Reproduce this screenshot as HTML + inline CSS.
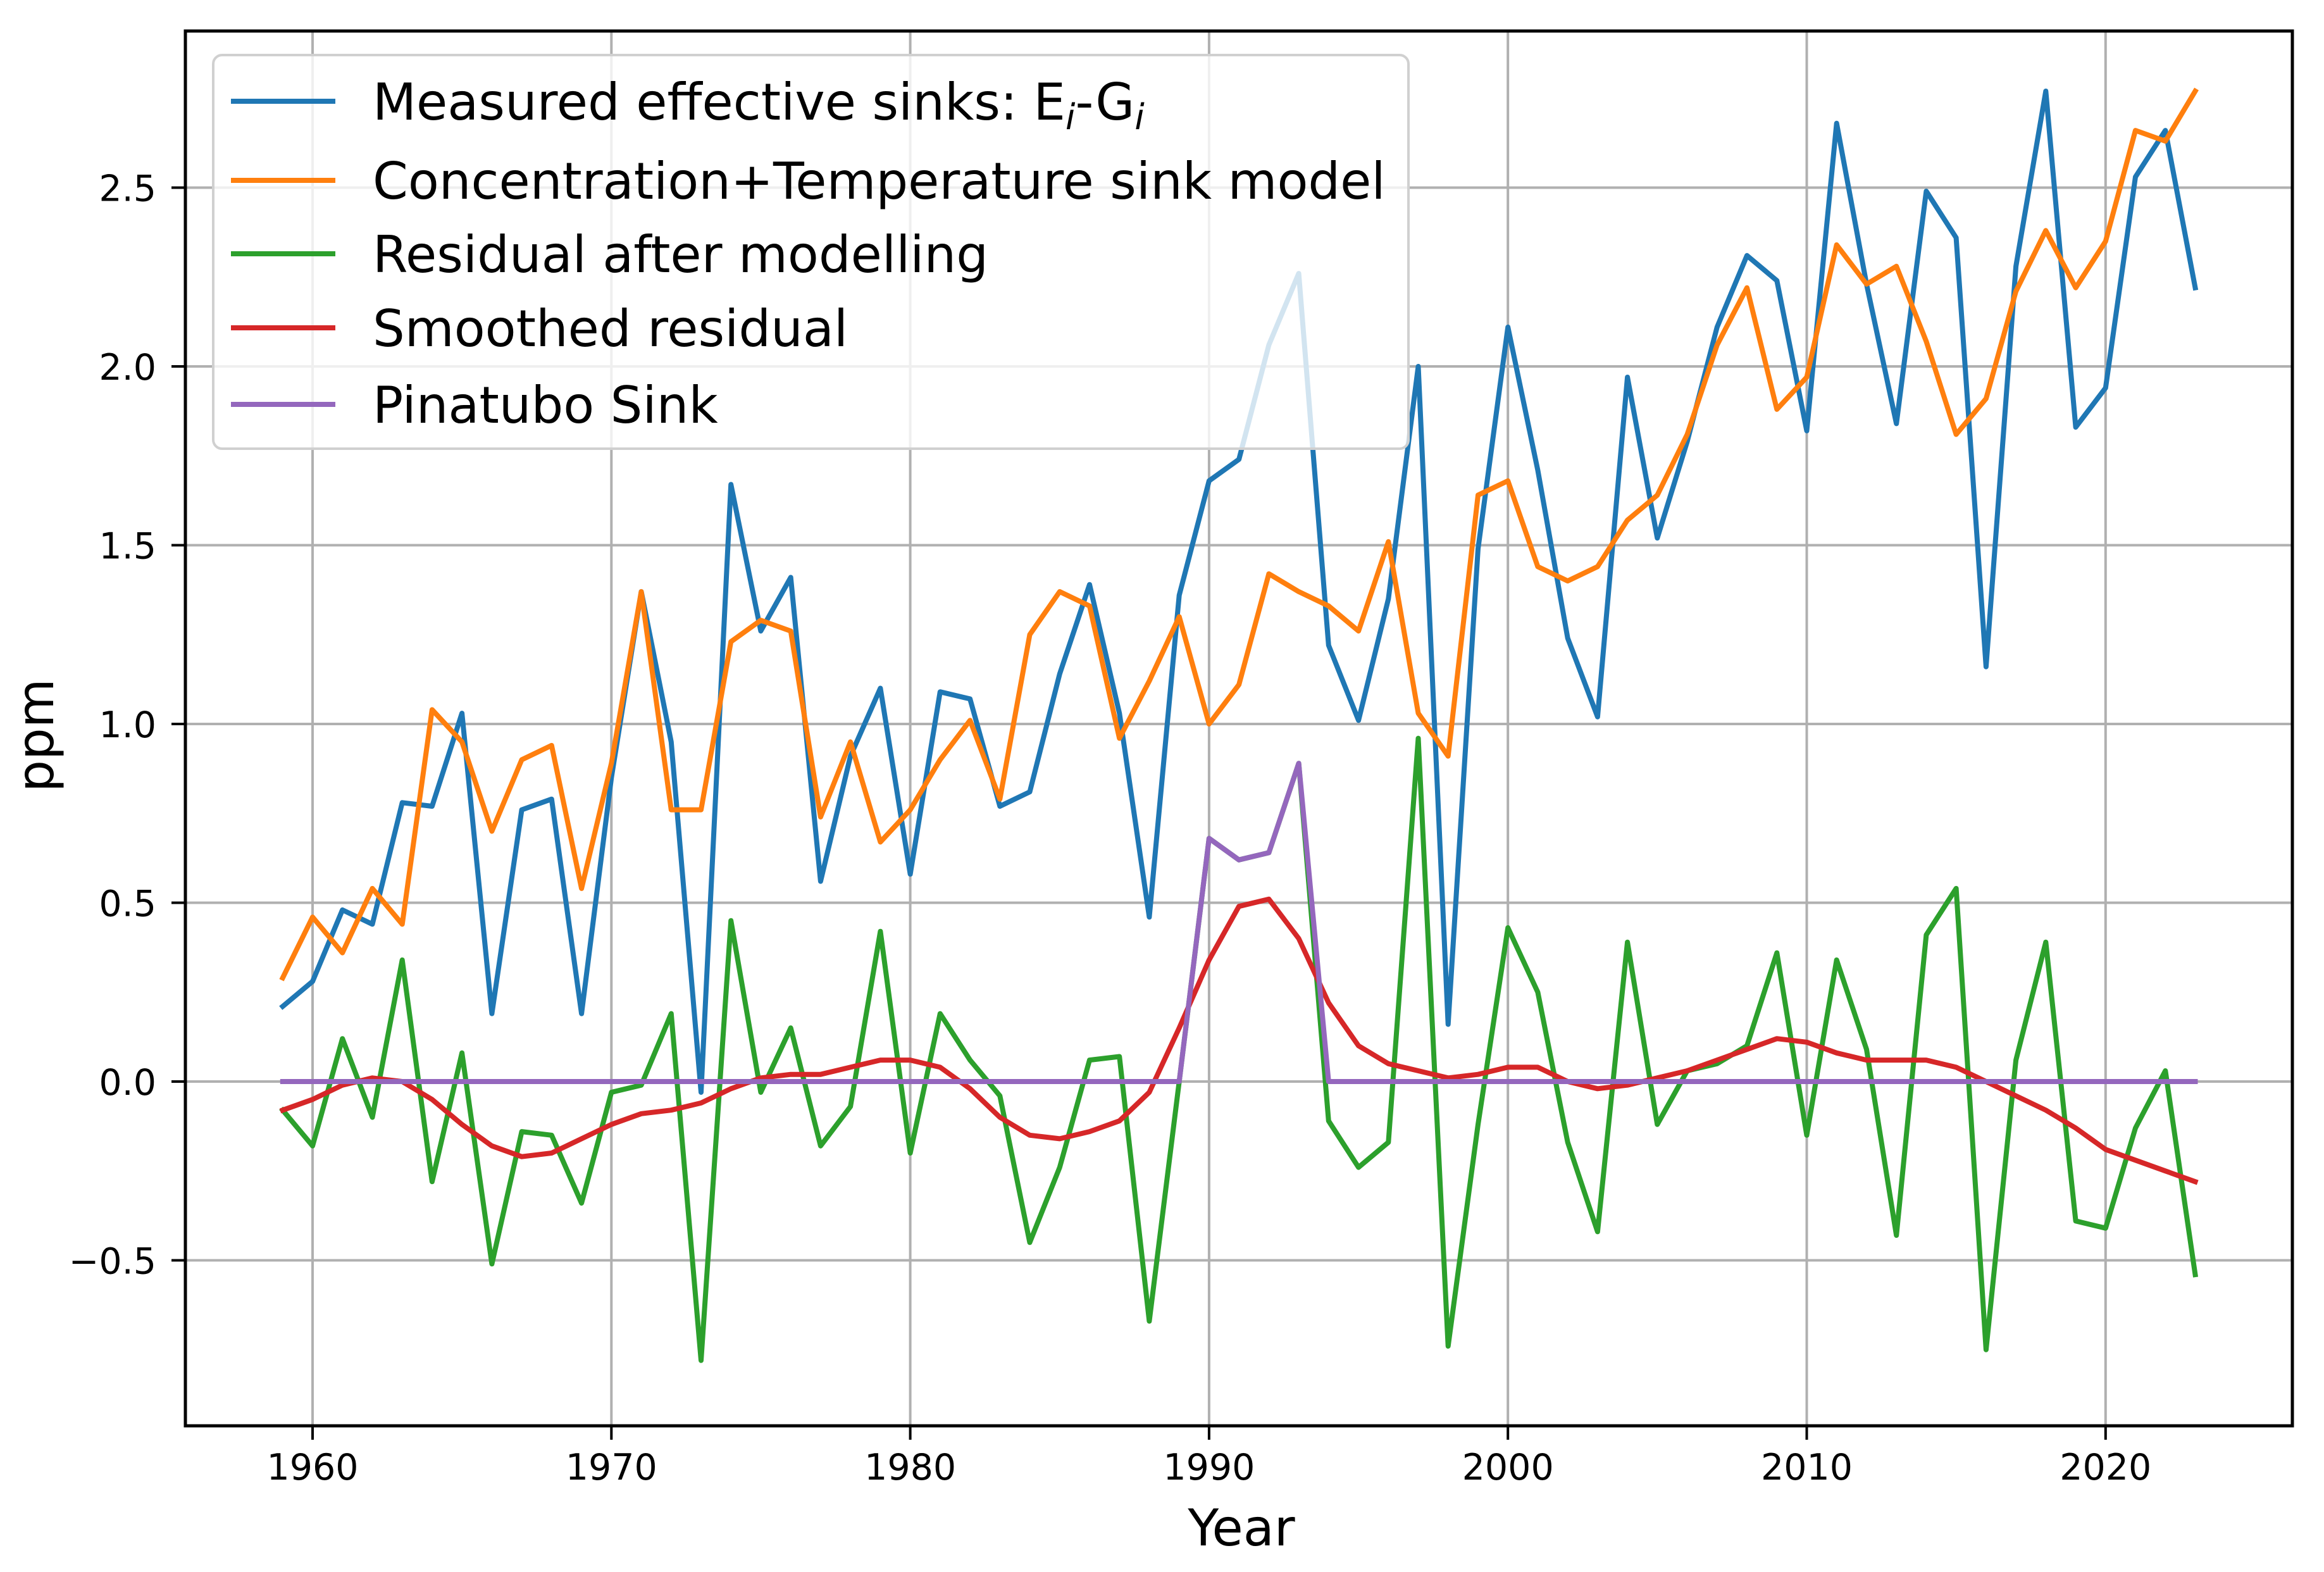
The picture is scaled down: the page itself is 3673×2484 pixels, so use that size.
<!DOCTYPE html>
<html><head><meta charset="utf-8">
<style>
html,body{margin:0;padding:0;background:#fff;}
svg{display:block;font-family:"DejaVu Sans","Liberation Sans",sans-serif;}
</style></head>
<body>
<svg id="chart" width="3673" height="2484" viewBox="0 0 3673 2484" xmlns="http://www.w3.org/2000/svg">
<rect x="0" y="0" width="3673" height="2484" fill="#fff"/>
<g id="grid"></g>
<g id="series"></g>
<rect x="293" y="49" width="3330" height="2204" fill="none" stroke="#000" stroke-width="5"/>
<g id="ticks"></g>
<text x="1962" y="2442" font-size="80" text-anchor="middle">Year</text>
<text transform="translate(84,1162) rotate(-90)" font-size="80" text-anchor="middle">ppm</text>
<g id="legend">
<rect x="337" y="87" width="1889" height="622" rx="14" fill="#fff" fill-opacity="0.8" stroke="#d0d0d0" stroke-width="4"/>
</g>
</svg>
<script>
const years = [];
for (let y = 1959; y <= 2023; y++) years.push(y);
const measured = [0.21,0.28,0.48,0.44,0.78,0.77,1.03,0.19,0.76,0.79,0.19,0.85,1.37,0.95,-0.03,1.67,1.26,1.41,0.56,0.91,1.10,0.58,1.09,1.07,0.77,0.81,1.14,1.39,1.03,0.46,1.36,1.68,1.74,2.06,2.26,1.22,1.01,1.35,2.00,0.16,1.49,2.11,1.71,1.24,1.02,1.97,1.52,1.79,2.11,2.31,2.24,1.82,2.68,2.23,1.84,2.49,2.36,1.16,2.28,2.77,1.83,1.94,2.53,2.66,2.22];
const model = [0.29,0.46,0.36,0.54,0.44,1.04,0.95,0.70,0.90,0.94,0.54,0.89,1.37,0.76,0.76,1.23,1.29,1.26,0.74,0.95,0.67,0.76,0.90,1.01,0.79,1.25,1.37,1.33,0.96,1.12,1.30,1.00,1.11,1.42,1.37,1.33,1.26,1.51,1.03,0.91,1.64,1.68,1.44,1.40,1.44,1.57,1.64,1.81,2.06,2.22,1.88,1.97,2.34,2.23,2.28,2.07,1.81,1.91,2.21,2.38,2.22,2.35,2.66,2.63,2.77];
const residual = [-0.08,-0.18,0.12,-0.10,0.34,-0.28,0.08,-0.51,-0.14,-0.15,-0.34,-0.03,-0.01,0.19,-0.78,0.45,-0.03,0.15,-0.18,-0.07,0.42,-0.20,0.19,0.06,-0.04,-0.45,-0.24,0.06,0.07,-0.67,0.00,0.68,0.62,0.64,0.89,-0.11,-0.24,-0.17,0.96,-0.74,-0.12,0.43,0.25,-0.17,-0.42,0.39,-0.12,0.03,0.05,0.10,0.36,-0.15,0.34,0.09,-0.43,0.41,0.54,-0.75,0.06,0.39,-0.39,-0.41,-0.13,0.03,-0.54];
const smoothed = [-0.08,-0.05,-0.01,0.01,0.00,-0.05,-0.12,-0.18,-0.21,-0.20,-0.16,-0.12,-0.09,-0.08,-0.06,-0.02,0.01,0.02,0.02,0.04,0.06,0.06,0.04,-0.02,-0.10,-0.15,-0.16,-0.14,-0.11,-0.03,0.15,0.34,0.49,0.51,0.40,0.22,0.10,0.05,0.03,0.01,0.02,0.04,0.04,0.00,-0.02,-0.01,0.01,0.03,0.06,0.09,0.12,0.11,0.08,0.06,0.06,0.06,0.04,0.00,-0.04,-0.08,-0.13,-0.19,-0.22,-0.25,-0.28];
const pinatuboYears = [1990,1991,1992,1993];
const pinatuboValues = [0.68,0.62,0.64,0.89];
const xTicks = [1960,1970,1980,1990,2000,2010,2020];
const yTicks = [-0.5,0.0,0.5,1.0,1.5,2.0,2.5];
const yTickLabels = ["\u22120.5","0.0","0.5","1.0","1.5","2.0","2.5"];
const legendLabels = ["Measured effective sinks: E","Concentration+Temperature sink model","Residual after modelling","Smoothed residual","Pinatubo Sink"];
const colors = ["#1f77b4","#ff7f0e","#2ca02c","#d62728","#9467bd"];

const NS = "http://www.w3.org/2000/svg";
function xs(yr){ return 494 + (yr - 1960) * 47.23; }
function ys(v){ return 1709 - v * 565; }
function mk(tag, attrs, parent){
  const e = document.createElementNS(NS, tag);
  for (const k in attrs) e.setAttribute(k, attrs[k]);
  parent.appendChild(e); return e;
}
const grid = document.getElementById('grid');
const ticks = document.getElementById('ticks');
xTicks.forEach(function(t){
  const g = mk('line',{x1:xs(t),x2:xs(t),y1:49,y2:2253,stroke:'#b0b0b0','stroke-width':4},grid);
  
  
  const tk = mk('line',{x1:xs(t),x2:xs(t),y1:2253,y2:2275,stroke:'#000','stroke-width':4},ticks);
  
  
  const tx = mk('text',{x:xs(t),y:2338,'font-size':57,'text-anchor':'middle',fill:'#000'},ticks);
  tx.textContent = t;
  
  
});
yTicks.forEach(function(t,i){
  const g = mk('line',{x1:293,x2:3623,y1:ys(t),y2:ys(t),stroke:'#b0b0b0','stroke-width':4},grid);
  
  
  const tk = mk('line',{x1:271,x2:293,y1:ys(t),y2:ys(t),stroke:'#000','stroke-width':4},ticks);
  
  
  const tx = mk('text',{x:247,y:ys(t)+21,'font-size':57,'text-anchor':'end',fill:'#000'},ticks);
  tx.textContent = yTickLabels[i];
  
  
});
const series = document.getElementById('series');
function line(xv, yv, color, name){
  const pts = xv.map(function(x,i){ return xs(x).toFixed(1)+','+ys(yv[i]).toFixed(1); }).join(' ');
  const p = mk('polyline',{points:pts,fill:'none',stroke:color,'stroke-width':8,'stroke-linejoin':'round','stroke-linecap':'square'},series);
  
  
}
const pinatubo = years.map(function(y){ const k = pinatuboYears.indexOf(y); return k >= 0 ? pinatuboValues[k] : 0; });
line(years, measured, colors[0], 'measured-sinks-line');
line(years, model, colors[1], 'model-sinks-line');
line(years, residual, colors[2], 'residual-line');
line(years, smoothed, colors[3], 'smoothed-residual-line');
line(years, pinatubo, colors[4], 'pinatubo-sink-line');

const legend = document.getElementById('legend');
const ly = [160,285,401,518,639];
legendLabels.forEach(function(lab,i){
  const l = mk('line',{x1:365,x2:530,y1:ly[i],y2:ly[i],stroke:colors[i],'stroke-width':8},legend);
  
  
  const t = mk('text',{x:589,y:ly[i]+29,'font-size':80,fill:'#000'},legend);
  
  
  t.textContent = lab;
  if (i === 0) {
    const s1 = mk('tspan',{'font-size':56,'font-style':'italic',dy:15},t); s1.textContent = 'i';
    const s2 = mk('tspan',{dy:-15},t); s2.textContent = '-G';
    const s3 = mk('tspan',{'font-size':56,'font-style':'italic',dy:15},t); s3.textContent = 'i';
  }
});
</script>
</body></html>
